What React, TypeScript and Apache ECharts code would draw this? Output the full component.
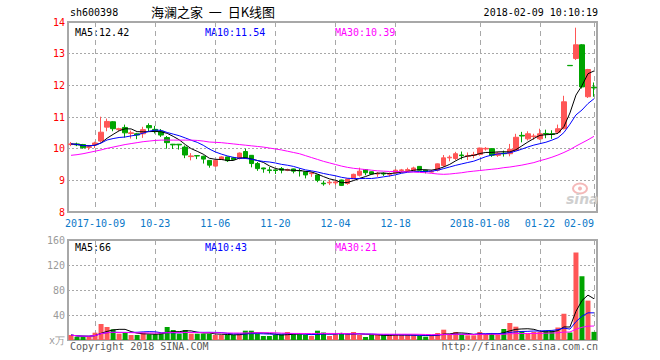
import React, { useEffect, useRef } from "react";
import * as echarts from "echarts";

// ---- data ----
const opens = [
  10.13, 10.15, 10.13, 10.04, 10.12, 10.24, 10.68, 10.85, 10.60, 10.67,
  10.48, 10.47, 10.47, 10.73, 10.61, 10.55, 10.35, 10.14, 10.14, 10.05,
  9.75, 9.78, 9.76, 9.63, 9.45, 9.66, 9.74, 9.71, 9.69, 9.91,
  9.79, 9.53, 9.39, 9.33, 9.33, 9.37, 9.32, 9.36, 9.31, 9.27,
  9.21, 9.17, 8.91, 8.92, 8.92, 9.01, 8.90, 9.05, 9.16, 9.34,
  9.27, 9.20, 9.22, 9.19, 9.24, 9.31, 9.31, 9.32, 9.44, 9.32,
  9.26, 9.32, 9.47, 9.71, 9.69, 9.80, 9.76, 9.79, 9.82, 9.99,
  10.00, 9.79, 9.86, 9.84, 9.95, 10.42, 10.31, 10.38, 10.31, 10.48,
  10.47, 10.52, 10.63, 12.63, 12.85, 13.28, 11.64, 11.94,
];
const closes = [
  10.15, 10.12, 10.03, 10.06, 10.18, 10.52, 10.86, 10.63, 10.63, 10.50,
  10.50, 10.43, 10.60, 10.66, 10.54, 10.43, 10.19, 10.12, 10.12, 9.80,
  9.77, 9.77, 9.67, 9.48, 9.63, 9.74, 9.62, 9.66, 9.86, 9.71,
  9.53, 9.37, 9.36, 9.31, 9.31, 9.32, 9.34, 9.29, 9.30, 9.17,
  9.23, 9.00, 8.89, 8.94, 8.95, 8.84, 9.04, 9.19, 9.29, 9.24,
  9.20, 9.22, 9.20, 9.21, 9.32, 9.33, 9.34, 9.39, 9.32, 9.28,
  9.28, 9.52, 9.71, 9.73, 9.84, 9.78, 9.78, 9.81, 10.02, 10.01,
  9.79, 9.86, 9.84, 9.98, 10.36, 10.40, 10.47, 10.40, 10.47, 10.46,
  10.45, 10.63, 11.48, 12.62, 13.28, 11.95, 12.50, 11.92,
];
const lows = [
  10.08, 10.08, 10.00, 9.96, 10.02, 10.20, 10.55, 10.55, 10.56, 10.35,
  10.32, 10.30, 10.34, 10.55, 10.48, 10.37, 10.00, 9.99, 9.97, 9.70,
  9.63, 9.67, 9.53, 9.40, 9.42, 9.65, 9.58, 9.63, 9.66, 9.69,
  9.41, 9.30, 9.24, 9.22, 9.20, 9.22, 9.29, 9.22, 9.12, 9.06,
  9.11, 8.94, 8.83, 8.85, 8.85, 8.82, 8.86, 9.04, 9.12, 9.16,
  9.18, 9.11, 9.14, 9.12, 9.22, 9.26, 9.27, 9.30, 9.30, 9.22,
  9.24, 9.28, 9.42, 9.60, 9.64, 9.66, 9.64, 9.70, 9.78, 9.94,
  9.74, 9.74, 9.75, 9.76, 9.94, 10.20, 10.26, 10.28, 10.28, 10.33,
  10.31, 10.47, 10.61, 12.62, 12.80, 11.90, 11.60, 11.64,
];
const highs = [
  10.21, 10.19, 10.15, 10.10, 10.22, 11.01, 10.95, 10.87, 10.66, 10.76,
  10.57, 10.50, 10.69, 10.80, 10.72, 10.62, 10.40, 10.15, 10.14, 10.10,
  9.86, 9.79, 9.78, 9.64, 9.65, 9.76, 9.75, 9.74, 9.88, 10.00,
  9.80, 9.58, 9.40, 9.42, 9.34, 9.42, 9.37, 9.37, 9.38, 9.28,
  9.27, 9.18, 8.99, 9.01, 9.00, 9.02, 9.06, 9.21, 9.40, 9.35,
  9.28, 9.26, 9.25, 9.25, 9.35, 9.36, 9.40, 9.43, 9.45, 9.34,
  9.33, 9.53, 9.80, 9.79, 9.90, 9.91, 9.88, 9.90, 10.03, 10.05,
  10.02, 9.90, 9.94, 10.15, 10.47, 10.53, 10.55, 10.47, 10.63, 10.60,
  10.58, 10.76, 11.67, 12.63, 13.82, 13.30, 12.52, 12.09,
];
// 30-day price average
const ma30Price = [
  9.79, 9.81, 9.84, 9.88, 9.92, 9.96, 10.01, 10.05, 10.09, 10.13,
  10.16, 10.19, 10.22, 10.24, 10.26, 10.27, 10.27, 10.27, 10.27, 10.27,
  10.27, 10.26, 10.24, 10.21, 10.20, 10.19, 10.17, 10.15, 10.13, 10.11,
  10.09, 10.07, 10.05, 10.02, 9.99, 9.96, 9.92, 9.88, 9.84, 9.78,
  9.72, 9.66, 9.60, 9.55, 9.50, 9.45, 9.41, 9.38, 9.36, 9.34,
  9.32, 9.30, 9.29, 9.28, 9.28, 9.27, 9.27, 9.26, 9.25, 9.24,
  9.22, 9.20, 9.19, 9.20, 9.22, 9.24, 9.27, 9.29, 9.31, 9.33,
  9.35, 9.37, 9.40, 9.42, 9.45, 9.48, 9.52, 9.56, 9.62, 9.67,
  9.73, 9.80, 9.88, 9.97, 10.08, 10.18, 10.28, 10.39,
];
// volume, in 万 (10k lots)
const volumes = [
  8.0, 5.3, 5.3, 5.3, 11.7, 25.6, 20.8, 17.1, 10.1, 11.7,
  8.0, 8.0, 11.7, 9.1, 9.1, 10.7, 20.8, 16.0, 10.1, 16.0,
  10.1, 10.1, 10.1, 10.1, 8.0, 8.0, 8.0, 8.0, 10.1, 14.9,
  14.9, 10.1, 6.4, 6.4, 8.0, 9.1, 12.8, 9.1, 9.1, 8.0,
  6.4, 14.9, 12.0, 6.4, 9.1, 11.2, 9.1, 12.8, 8.0, 4.8,
  8.0, 8.0, 8.0, 8.0, 8.0, 8.0, 8.0, 8.0, 6.4, 5.3,
  8.0, 11.2, 16.5, 8.0, 12.8, 8.0, 7.5, 7.5, 12.8, 9.1,
  11.2, 8.0, 17.6, 27.2, 21.3, 14.4, 9.6, 12.8, 12.8, 14.9,
  14.9, 20.0, 42.0, 12.0, 140, 102, 63, 13,
];
const tickIndex = [4, 14, 24, 34, 44, 54, 68, 78, 87];
const tickLabels = ["2017-10-09", "10-23", "11-06", "11-20", "12-04", "12-18", "2018-01-08", "01-22", "02-09"];
const stockCode = "sh600398";
const chartTitle = "海澜之家  一  日K线图";
const timestamp = "2018-02-09 10:10:19";
const priceMaNames = ["MA5", "MA10", "MA30"];
const priceMaValues = ["12.42", "11.54", "10.39"];
const volMaNames = ["MA5", "MA10", "MA30"];
const volMaValues = ["66", "43", "21"];
const copyrightText = "Copyright 2018 SINA.COM";
const urlText = "http://finance.sina.com.cn";

// ---- helpers ----
function movingAvg(arr: number[], n: number): number[] {
  return arr.map((_, i) => {
    const s = Math.max(0, i - n + 1);
    const w = arr.slice(s, i + 1);
    return +(w.reduce((a, b) => a + b, 0) / w.length).toFixed(3);
  });
}

const MONO = "'DejaVu Sans Mono', 'Liberation Mono', monospace";
const RED = "#ff5656";
const GREEN = "#00a400";
const MA_COLORS = ["#000000", "#0000ff", "#ff00ff"];
const GRID_LEFT = 68;
const GRID_WIDTH = 529;

export default function App() {
  const ref = useRef<HTMLDivElement>(null);

  useEffect(() => {
    if (!ref.current) return;
    const chart = echarts.init(ref.current, undefined, { renderer: "svg" });
    const cats = closes.map((_, i) => String(i));
    const kData = closes.map((c, i) => [opens[i], c, lows[i], highs[i]]);
    const ma5 = movingAvg(closes, 5);
    const ma10 = movingAvg(closes, 10);
    const vma5 = movingAvg(volumes, 5);
    const vma10 = movingAvg(volumes, 10);
    const vma30 = movingAvg(volumes, 30);
    const volData = volumes.map((v, i) => ({
      value: v,
      itemStyle: { color: closes[i] >= opens[i] ? RED : GREEN },
    }));
    const isTick = (i: number) => tickIndex.indexOf(i) >= 0;

    const vSplit = {
      show: true,
      interval: (i: number) => isTick(i),
      alignWithLabel: true,
      lineStyle: { color: "#a8a8a8", type: [5, 4], width: 1 },
    };

    const lineSeries = (data: number[], color: string, xi: number) => ({
      type: "line",
      xAxisIndex: xi,
      yAxisIndex: xi,
      data,
      showSymbol: false,
      symbol: "none",
      silent: true,
      lineStyle: { color, width: 1 },
      itemStyle: { color },
    });

    const legendTexts = (names: string[], vals: string[], y: number) =>
      names.map((nm, i) => ({
        type: "text",
        left: 75 + i * 130,
        top: y,
        style: {
          text: nm + ":" + vals[i],
          fill: MA_COLORS[i],
          font: "10px " + MONO,
        },
      }));

    chart.setOption({
      animation: false,
      backgroundColor: "#ffffff",
      grid: [
        { left: GRID_LEFT, top: 22, width: GRID_WIDTH, height: 190, show: true, borderColor: "#a8a8a8", borderWidth: 2 },
        { left: GRID_LEFT, top: 240, width: GRID_WIDTH, height: 100, show: true, borderColor: "#a8a8a8", borderWidth: 2 },
      ],
      xAxis: [
        {
          type: "category",
          gridIndex: 0,
          data: cats,
          boundaryGap: true,
          axisLine: { show: false },
          axisTick: { show: false },
          axisLabel: {
            interval: (i: number) => isTick(i),
            formatter: (_v: string, i: number) => tickLabels[tickIndex.indexOf(i)] || "",
            color: "#0a78c8",
            fontFamily: MONO,
            fontSize: 10,
            margin: 6,
            alignMaxLabel: "right",
          },
          splitLine: vSplit,
        },
        {
          type: "category",
          gridIndex: 1,
          data: cats,
          boundaryGap: true,
          axisLine: { show: false },
          axisTick: { show: false },
          axisLabel: { show: false },
          splitLine: vSplit,
        },
      ],
      yAxis: [
        {
          type: "value",
          gridIndex: 0,
          min: 8,
          max: 14,
          interval: 1,
          axisLine: { show: false },
          axisTick: { show: false },
          axisLabel: { color: "#ff0000", fontFamily: MONO, fontSize: 10, margin: 3 },
          splitLine: { show: true, lineStyle: { color: "#a8a8a8", type: [2, 2], width: 1 } },
        },
        {
          type: "value",
          gridIndex: 1,
          min: 0,
          max: 160,
          interval: 40,
          axisLine: { show: false },
          axisTick: { show: false },
          axisLabel: {
            color: "#9a9a9a",
            fontFamily: MONO,
            fontSize: 10,
            margin: 3,
            formatter: (v: number) => (v === 0 ? "x万" : String(v)),
          },
          splitLine: { show: true, lineStyle: { color: "#a8a8a8", type: [2, 2], width: 1 } },
        },
      ],
      series: [
        {
          type: "candlestick",
          xAxisIndex: 0,
          yAxisIndex: 0,
          data: kData,
          barWidth: 5,
          silent: true,
          itemStyle: {
            color: RED,
            color0: GREEN,
            borderColor: RED,
            borderColor0: GREEN,
            borderWidth: 1,
          },
        },
        lineSeries(ma5, MA_COLORS[0], 0),
        lineSeries(ma10, MA_COLORS[1], 0),
        lineSeries(ma30Price, MA_COLORS[2], 0),
        {
          type: "bar",
          xAxisIndex: 1,
          yAxisIndex: 1,
          data: volData,
          barWidth: 5,
          silent: true,
        },
        lineSeries(vma5, MA_COLORS[0], 1),
        lineSeries(vma10, MA_COLORS[1], 1),
        lineSeries(vma30, MA_COLORS[2], 1),
      ],
      graphic: [
        { type: "text", left: 70, top: 7, style: { text: stockCode, fill: "#000", font: "10px " + MONO } },
        { type: "text", left: 151, top: 5, style: { text: chartTitle, fill: "#000", font: "13px 'Noto Sans CJK SC', sans-serif" } },
        { type: "text", right: 62, top: 7, style: { text: timestamp, fill: "#000", font: "10px " + MONO } },
        ...legendTexts(priceMaNames, priceMaValues, 27),
        ...legendTexts(volMaNames, volMaValues, 242),
        { type: "text", left: 70, top: 341, style: { text: copyrightText, fill: "#5a5a5a", font: "10px " + MONO } },
        { type: "text", right: 62, top: 341, style: { text: urlText, fill: "#5a5a5a", font: "10px " + MONO } },
        {
          type: "group",
          left: 566,
          top: 181,
          silent: true,
          children: [
            { type: "ellipse", shape: { cx: 14, cy: 6, rx: 7, ry: 5 }, style: { fill: "none", stroke: "#f4b8b8", lineWidth: 2 } },
            { type: "circle", shape: { cx: 14, cy: 6, r: 2 }, style: { fill: "#f4b8b8" } },
            { type: "text", x: 0, y: 9, style: { text: "sina", fill: "#cfcfcf", font: "italic bold 14px 'DejaVu Sans', sans-serif" } },
          ],
        },
      ],
    });

    return () => chart.dispose();
  }, []);

  return (
    <div
      ref={ref}
      style={{ position: "absolute", left: 0, top: 0, width: 660, height: 360 }}
    />
  );
}
